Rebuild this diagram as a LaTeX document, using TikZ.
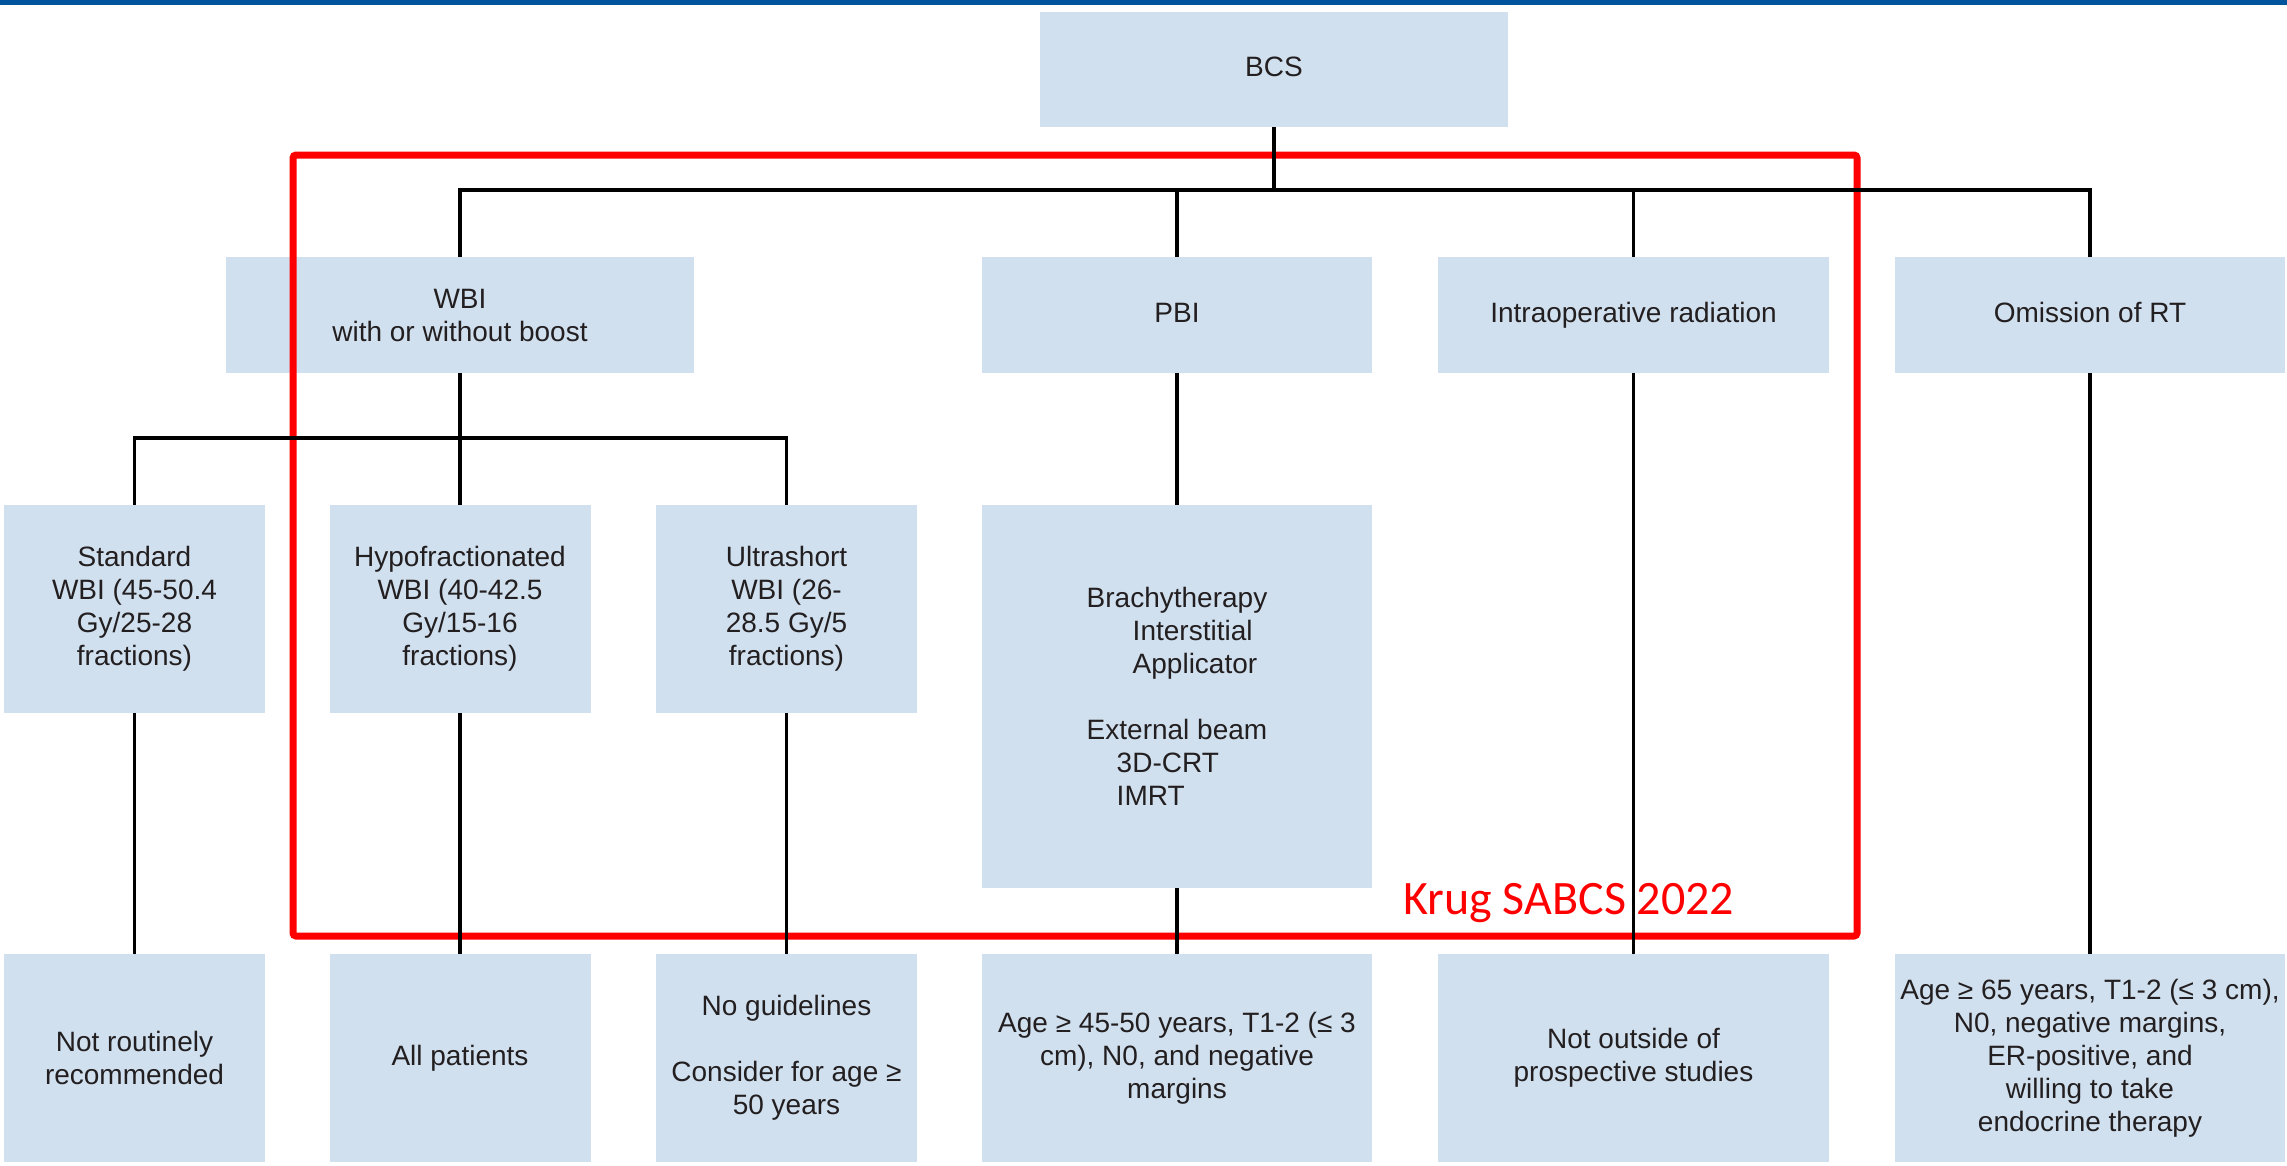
\documentclass[tikz,border=0pt]{standalone}
\usepackage{fontspec}
\setmainfont{Liberation Sans}
\newfontfamily\calibri{Carlito}
\definecolor{boxblue}{RGB}{208,224,239}
\definecolor{topbar}{RGB}{0,84,155}
\definecolor{krugred}{RGB}{255,0,0}
\definecolor{boxtext}{RGB}{35,31,32}
\begin{document}
\begin{tikzpicture}[x=1pt,y=-1pt,
  box/.style={fill=boxblue, inner sep=0pt, align=center, text=boxtext,
    font=\fontsize{28}{33}\selectfont},
  oneline/.style={text height=20pt, text depth=6pt},
  conn/.style={line width=3.5pt, draw=black},
  krugframe/.style={draw=krugred, line width=7pt, rounded corners=3pt}
]
\useasboundingbox (0,0) rectangle (2287,1165);
\fill[topbar] (0,0) rectangle (2287,5);

% level 1
\node[box, oneline, minimum width=468pt, minimum height=115pt] (bcs) at (1274,69.5) {BCS};
% level 2
\node[box, minimum width=468pt, minimum height=116pt] (wbi) at (460,315) {WBI\\with or without boost};
\node[box, oneline, minimum width=390pt, minimum height=116pt] (pbi) at (1177,315) {PBI};
\node[box, oneline, minimum width=391pt, minimum height=116pt] (iort) at (1633.5,315) {Intraoperative radiation};
\node[box, oneline, minimum width=390pt, minimum height=116pt] (omit) at (2090,315) {Omission of RT};
% level 3
\node[box, minimum width=261pt, minimum height=208pt] (std) at (134.5,609) {Standard\\WBI (45-50.4\\Gy/25-28\\fractions)};
\node[box, minimum width=261pt, minimum height=208pt] (hypo) at (460,609) {Hypofractionated\\WBI (40-42.5\\Gy/15-16\\fractions)};
\node[box, minimum width=261pt, minimum height=208pt] (ultra) at (786.5,609) {Ultrashort\\WBI (26-\\28.5 Gy/5\\fractions)};
\node[box, minimum width=390pt, minimum height=383pt, align=left] (pbid) at (1177,696.5)
  {Brachytherapy\\\hspace*{46pt}Interstitial\\\hspace*{46pt}Applicator\\[33pt]External beam\\\hspace*{30pt}3D-CRT\\\hspace*{30pt}IMRT};
% level 4
\node[box, minimum width=261pt, minimum height=208pt] (notrout) at (134.5,1058) {Not routinely\\recommended};
\node[box, oneline, minimum width=261pt, minimum height=208pt] (allpat) at (460,1058) {All patients};
\node[box, minimum width=261pt, minimum height=208pt] (noguide) at (786.5,1058) {No guidelines\\[33pt]Consider for age ≥\\50 years};
\node[box, minimum width=390pt, minimum height=208pt] (age45) at (1177,1058) {Age ≥ 45-50 years, T1-2 (≤ 3\\cm), N0, and negative\\margins};
\node[box, minimum width=391pt, minimum height=208pt] (notout) at (1633.5,1058) {Not outside of\\prospective studies};
\node[box, minimum width=390pt, minimum height=208pt] (age65) at (2090,1058) {Age ≥ 65 years, T1-2 (≤ 3 cm),\\N0, negative margins,\\ER-positive, and\\willing to take\\endocrine therapy};

% red frame and label
\draw[krugframe] (293,155) rectangle (1857,936);
\node[anchor=base west, inner sep=0pt, text=krugred, font=\calibri\fontsize{48}{58}\selectfont] (krug) at (1403,914) {Krug SABCS 2022};

% connectors
\coordinate (bus1) at (1274,190);
\coordinate (bus2) at (460,438);
\draw[conn] (bcs.south) -- (bus1);
\draw[conn] (wbi.north) |- (bus1);
\draw[conn] (pbi.north) |- (bus1);
\draw[conn] (iort.north) |- (bus1);
\draw[conn] (omit.north) |- (bus1);
\draw[conn] (wbi.south) -- (bus2);
\draw[conn] (std.north) |- (bus2);
\draw[conn] (hypo.north) -- (bus2);
\draw[conn] (ultra.north) |- (bus2);
\draw[conn] (pbi.south) -- (pbid.north);
\draw[conn] (std.south) -- (notrout.north);
\draw[conn] (hypo.south) -- (allpat.north);
\draw[conn] (ultra.south) -- (noguide.north);
\draw[conn] (pbid.south) -- (age45.north);
\draw[conn] (iort.south) -- (notout.north);
\draw[conn] (omit.south) -- (age65.north);
\end{tikzpicture}
\end{document}
